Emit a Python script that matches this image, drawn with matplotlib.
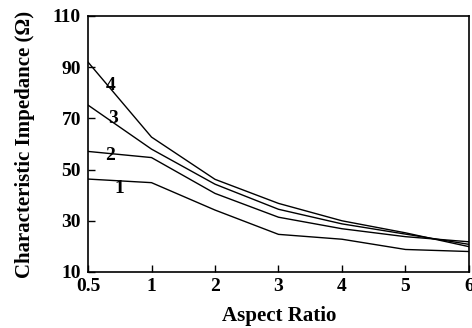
import numpy as np
import matplotlib.pyplot as plt

plt.rcParams['font.family'] = ['Liberation Serif', 'DejaVu Serif']
plt.rcParams['font.weight'] = 'bold'

aspect_ratio = ['0.5', '1', '2', '3', '4', '5', '6']
curve_1 = [46.3, 44.9, 34.2, 24.7, 22.8, 18.8, 18.0]
curve_2 = [57.1, 54.7, 40.7, 31.4, 26.9, 23.8, 21.8]
curve_3 = [75.2, 58.0, 44.3, 34.5, 28.8, 24.8, 20.8]
curve_4 = [92.0, 62.7, 46.2, 36.8, 30.0, 25.3, 19.9]
curves = [curve_1, curve_2, curve_3, curve_4]
curve_names = ['1', '2', '3', '4']
label_pos = [(0.49, 42.8), (0.35, 55.7), (0.39, 69.8), (0.36, 82.7)]

W, H = 472, 328
fig = plt.figure(figsize=(W / 100, H / 100), dpi=100)
ax = fig.add_axes([88 / W, 1 - 272 / H, 381 / W, 256 / H])

x = np.arange(len(aspect_ratio))
for vals, name, pos in zip(curves, curve_names, label_pos):
    ax.plot(x, vals, color='black', lw=1.0)
    ax.text(pos[0], pos[1], name, fontsize=14, fontweight='bold',
            ha='center', va='center')

ax.set_xlim(0, 6)
ax.set_ylim(10, 110)
ax.set_xticks(x)
ax.set_xticklabels(aspect_ratio)
ax.set_yticks(np.arange(10, 111, 20))
ax.tick_params(direction='in', length=5, width=1, labelsize=14)
ax.tick_params(axis='x', pad=4)
ax.tick_params(axis='y', pad=5)
for lbl in ax.get_xticklabels() + ax.get_yticklabels():
    lbl.set_fontweight('bold')
for sp in ax.spines.values():
    sp.set_linewidth(1.2)

# axis titles placed by hand to sit where the reference has them
fig.text(279 / W, 1 - 316 / H, 'Aspect Ratio', fontsize=15,
         fontweight='bold', ha='center', va='center')
fig.text(25 / W, 1 - 144 / H, 'Characteristic Impedance (\u03a9)',
         fontsize=15, fontweight='bold', rotation=90,
         ha='center', va='center')

fig.savefig('out.png', dpi=100)
